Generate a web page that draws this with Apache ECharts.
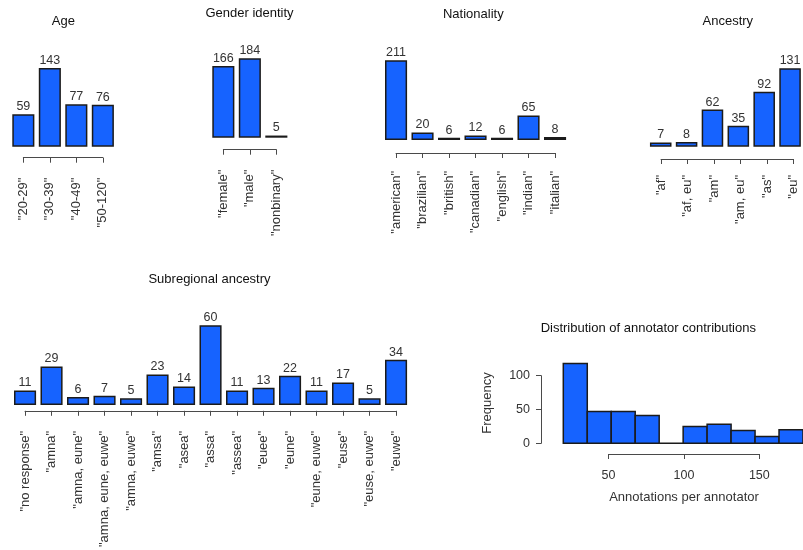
<!DOCTYPE html>
<html>
<head>
<meta charset="utf-8">
<script src="https://cdn.jsdelivr.net/npm/echarts@6/dist/echarts.min.js"></script>
<style>
html,body{margin:0;padding:0;background:#fff;}
#chart{width:803px;height:550px;}
</style>
</head>
<body>
<div id="chart"></div>
<script>
// ---------- DATA ----------
const ageCats = ['"20-29"', '"30-39"', '"40-49"', '"50-120"'];
const ageVals = [59, 143, 77, 76];

const genderCats = ['"female"', '"male"', '"nonbinary"'];
const genderVals = [166, 184, 5];

const natCats = ['"american"', '"brazilian"', '"british"', '"canadian"', '"english"', '"indian"', '"italian"'];
const natVals = [211, 20, 6, 12, 6, 65, 8];

const ancCats = ['"af"', '"af, eu"', '"am"', '"am, eu"', '"as"', '"eu"'];
const ancVals = [7, 8, 62, 35, 92, 131];

const subCats = ['"no response"', '"amna"', '"amna, eune"', '"amna, eune, euwe"', '"amna, euwe"', '"amsa"', '"asea"', '"assa"', '"assea"', '"euee"', '"eune"', '"eune, euwe"', '"euse"', '"euse, euwe"', '"euwe"'];
const subVals = [11, 29, 6, 7, 5, 23, 14, 60, 11, 13, 22, 11, 17, 5, 34];

const histEdges = [20, 36, 52, 68, 84, 100, 116, 132, 148, 164, 180];
const histCounts = [118, 47, 47, 41, 0, 25, 28, 19, 10, 20];
const histXTicks = [50, 100, 150];
const histYTicks = [0, 50, 100];

// ---------- STYLE / LAYOUT ----------
const FONT = '"Liberation Sans", Arial, Helvetica, sans-serif';
const BAR_FILL = '#1663FF';
const BAR_EDGE = '#1b1b1b';
const AXIS_COL = '#4a4a4a';
const TXT = '#333333';
const STEP = 26.5;
const BAR_FRAC = 1 / 1.2;

const panels = [
  {cats: ageCats, vals: ageVals, firstLeft: 12.3, bottom: 146.7, top: 68, axisY: 157.7, margin: 20, title: 'Age', tx: 63.3, ty: 21},
  {cats: genderCats, vals: genderVals, firstLeft: 212.3, bottom: 137.7, top: 58.3, axisY: 149.7, margin: 20, title: 'Gender identity', tx: 249.5, ty: 13},
  {cats: natCats, vals: natVals, firstLeft: 385, bottom: 140, top: 60.3, axisY: 153, margin: 18, title: 'Nationality', tx: 473.3, ty: 14.5},
  {cats: ancCats, vals: ancVals, firstLeft: 650, bottom: 146.7, top: 68.3, axisY: 159, margin: 16, title: 'Ancestry', tx: 727.8, ty: 21.7},
  {cats: subCats, vals: subVals, firstLeft: 14, bottom: 405, top: 325.3, axisY: 416, margin: 20, title: 'Subregional ancestry', tx: 209.5, ty: 279.7}
];

const grid = [], xAxis = [], yAxis = [], series = [], graphic = [];

panels.forEach(function (p) {
  const n = p.cats.length;
  const gapHalf = STEP * (1 - BAR_FRAC) / 2;
  const gLeft = p.firstLeft - gapHalf;
  // bar grid
  const gi = grid.length;
  grid.push({left: gLeft, top: p.top, width: n * STEP, height: p.bottom - p.top});
  xAxis.push({type: 'category', gridIndex: gi, data: p.cats, boundaryGap: true, show: false});
  yAxis.push({type: 'value', gridIndex: gi, min: 0, max: Math.max.apply(null, p.vals), show: false});
  series.push({
    type: 'bar', xAxisIndex: gi, yAxisIndex: gi, data: p.vals,
    barWidth: (BAR_FRAC * 100) + '%',
    itemStyle: {color: BAR_FILL, borderColor: BAR_EDGE, borderWidth: 1.5},
    label: {show: true, position: 'top', distance: 1, fontFamily: FONT, fontSize: 12.5, color: TXT},
    silent: true, animation: false
  });
  // axis grid (spans first to last bar centre)
  const ai = grid.length;
  grid.push({left: gLeft + STEP / 2, top: p.axisY - 10, width: (n - 1) * STEP, height: 10});
  xAxis.push({
    type: 'category', gridIndex: ai, data: p.cats, boundaryGap: false, position: 'bottom',
    axisLine: {show: true, lineStyle: {color: AXIS_COL, width: 1}},
    axisTick: {show: true, length: 5, lineStyle: {color: AXIS_COL, width: 1}},
    axisLabel: {show: true, rotate: 90, interval: 0, margin: p.margin, fontFamily: FONT, fontSize: 13, color: TXT},
    splitLine: {show: false}
  });
  yAxis.push({type: 'value', gridIndex: ai, show: false});
  graphic.push({type: 'text', x: p.tx, y: p.ty, silent: true,
    style: {text: p.title, font: '13px ' + FONT, fill: '#111', align: 'center', verticalAlign: 'middle'}});
});

// histogram
const hx0 = 563.3, pxPerUnitX = 1.508;
const hi = grid.length;
grid.push({left: hx0, top: 375.7, width: (histEdges[histEdges.length - 1] - histEdges[0]) * pxPerUnitX, height: 67.6});
xAxis.push({type: 'value', gridIndex: hi, min: histEdges[0], max: histEdges[histEdges.length - 1], show: false});
yAxis.push({
  type: 'value', gridIndex: hi, min: histYTicks[0], max: histYTicks[histYTicks.length - 1], interval: 50,
  offset: 22.3,
  axisLine: {show: true, lineStyle: {color: AXIS_COL, width: 1}},
  axisTick: {show: true, length: 5, lineStyle: {color: AXIS_COL, width: 1}},
  axisLabel: {show: true, margin: 11, fontFamily: FONT, fontSize: 12.5, color: TXT},
  splitLine: {show: false}
});
series.push({
  type: 'custom', xAxisIndex: hi, yAxisIndex: hi, clip: false, silent: true, animation: false,
  data: histCounts.map(function (c, i) { return [histEdges[i], histEdges[i + 1], c]; }),
  encode: {x: [0, 1], y: 2},
  renderItem: function (params, api) {
    const a = api.coord([api.value(0), 0]);
    const b = api.coord([api.value(1), api.value(2)]);
    return {type: 'rect', shape: {x: a[0], y: b[1], width: b[0] - a[0], height: a[1] - b[1]},
      style: {fill: BAR_FILL, stroke: BAR_EDGE, lineWidth: 1.5}};
  }
});
const hxi = grid.length;
grid.push({left: hx0 + (histXTicks[0] - histEdges[0]) * pxPerUnitX, top: 444, width: (histXTicks[histXTicks.length - 1] - histXTicks[0]) * pxPerUnitX, height: 10});
xAxis.push({
  type: 'value', gridIndex: hxi, min: histXTicks[0], max: histXTicks[histXTicks.length - 1], interval: 50, position: 'bottom',
  axisLine: {show: true, lineStyle: {color: AXIS_COL, width: 1}},
  axisTick: {show: true, length: 5, lineStyle: {color: AXIS_COL, width: 1}},
  axisLabel: {show: true, margin: 15, fontFamily: FONT, fontSize: 12.5, color: TXT, showMinLabel: true, showMaxLabel: true},
  splitLine: {show: false}
});
yAxis.push({type: 'value', gridIndex: hxi, show: false});

graphic.push({type: 'text', x: 648.3, y: 328.5, silent: true,
  style: {text: 'Distribution of annotator contributions', font: '13px ' + FONT, fill: '#111', align: 'center', verticalAlign: 'middle'}});
graphic.push({type: 'text', x: 684, y: 497, silent: true,
  style: {text: 'Annotations per annotator', font: '13px ' + FONT, fill: TXT, align: 'center', verticalAlign: 'middle'}});
graphic.push({type: 'text', x: 487.5, y: 403, rotation: Math.PI / 2, silent: true,
  style: {text: 'Frequency', font: '13px ' + FONT, fill: TXT, align: 'center', verticalAlign: 'middle'}});

const chart = echarts.init(document.getElementById('chart'), null, {renderer: 'canvas'});
chart.setOption({
  backgroundColor: '#ffffff',
  animation: false,
  grid: grid, xAxis: xAxis, yAxis: yAxis, series: series, graphic: graphic
});
</script>
</body>
</html>
